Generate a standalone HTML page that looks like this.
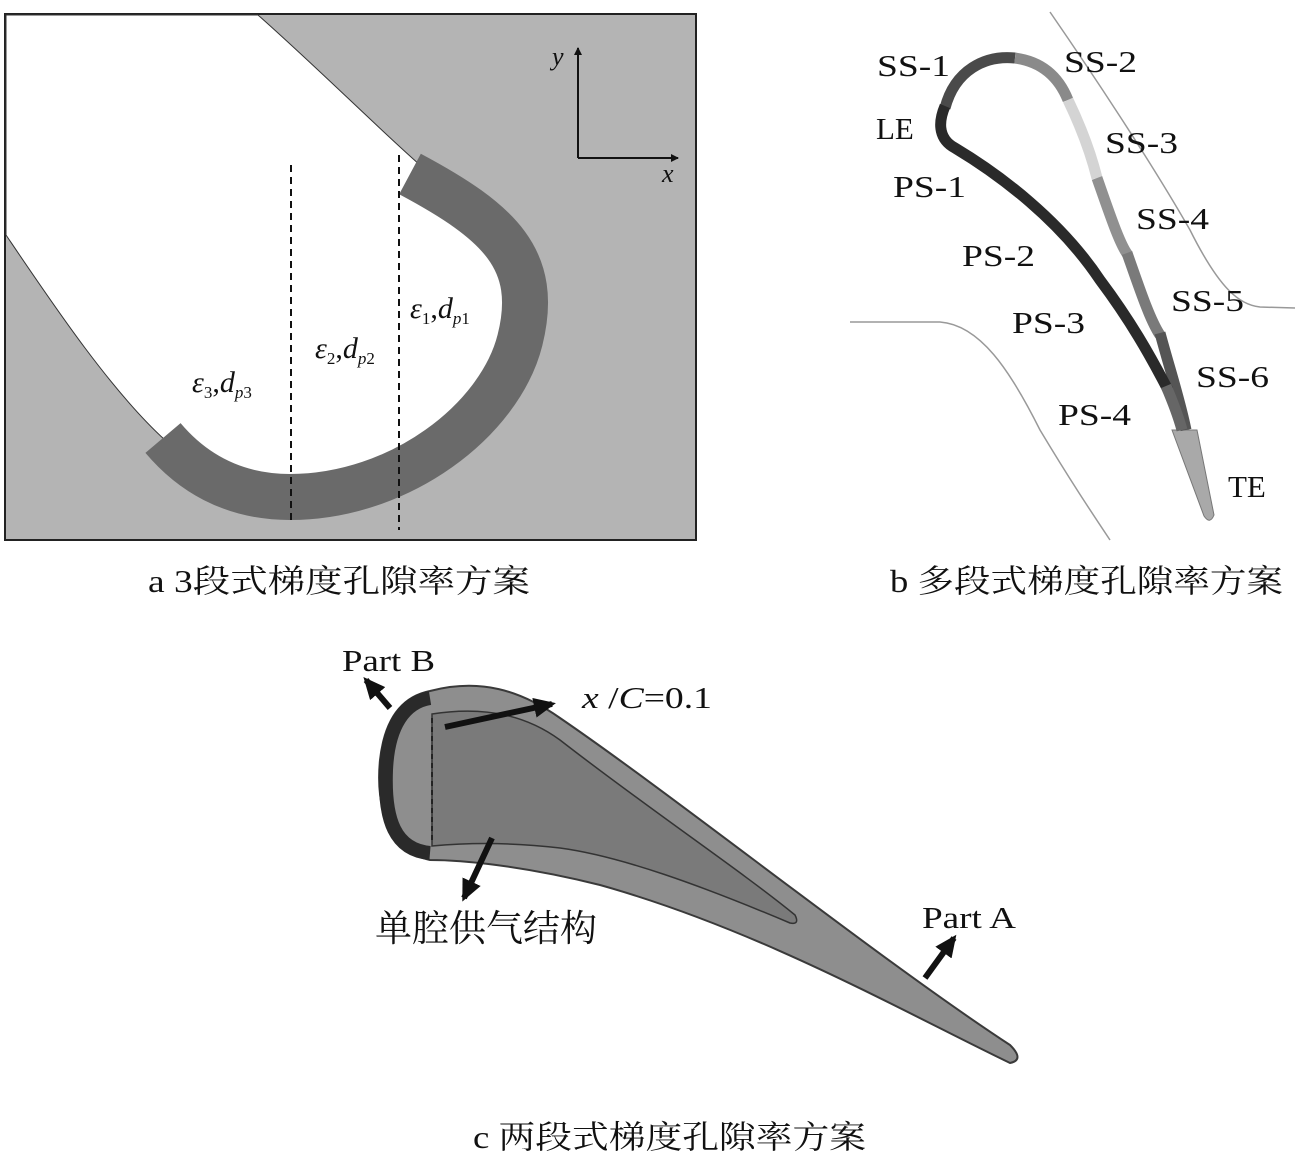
<!DOCTYPE html>
<html><head><meta charset="utf-8"><style>
html,body{margin:0;padding:0;background:#fff}
svg{display:block}
text{font-family:"Liberation Serif","Noto Serif CJK SC",serif;fill:#111}
</style></head><body>
<svg width="1305" height="1159" viewBox="0 0 1305 1159" xmlns="http://www.w3.org/2000/svg">
<defs>
<marker id="ah" markerWidth="8" markerHeight="8" refX="7" refY="4" orient="auto" markerUnits="userSpaceOnUse"><path d="M0,0 L8,4 L0,8 z" fill="#111"/></marker>
<marker id="bh" markerWidth="22" markerHeight="20" refX="18" refY="10" orient="auto" markerUnits="userSpaceOnUse"><path d="M0,0 L22,10 L0,20 z" fill="#111"/></marker>
</defs>
<!-- Panel a -->
<rect x="5" y="14" width="691" height="526" fill="#b4b4b4" stroke="#222" stroke-width="2"/>
<path d="M6,15 L258,15 C320,70 380,130 420,165 L415,178 C500,225 540,260 520,340 C500,420 400,497 290,497 C230,497 190,470 165,440 C110,390 50,300 6,235 Z" fill="#fff" stroke="#333" stroke-width="1"/>
<path d="M410,174 C500,222 540,260 520,340 C500,420 400,497 290,497 C230,497 190,470 163,438" fill="none" stroke="#6a6a6a" stroke-width="46"/>
<line x1="291" y1="165" x2="291" y2="525" stroke="#111" stroke-width="2" stroke-dasharray="7,5"/>
<line x1="399" y1="155" x2="399" y2="530" stroke="#111" stroke-width="2" stroke-dasharray="7,5"/>
<line x1="578" y1="158" x2="578" y2="48" stroke="#111" stroke-width="2" marker-end="url(#ah)"/>
<line x1="578" y1="158" x2="678" y2="158" stroke="#111" stroke-width="2" marker-end="url(#ah)"/>
<text x="552" y="65" font-size="26" font-style="italic">y</text>
<text x="662" y="182" font-size="26" font-style="italic">x</text>
<text x="410" y="318" font-size="30" font-style="italic">ε<tspan font-size="17" dy="6" font-style="normal">1</tspan><tspan dy="-6" font-style="normal">,</tspan>d<tspan font-size="17" dy="6">p</tspan><tspan font-size="17" font-style="normal">1</tspan></text>
<text x="315" y="358" font-size="30" font-style="italic">ε<tspan font-size="17" dy="6" font-style="normal">2</tspan><tspan dy="-6" font-style="normal">,</tspan>d<tspan font-size="17" dy="6">p</tspan><tspan font-size="17" font-style="normal">2</tspan></text>
<text x="192" y="392" font-size="30" font-style="italic">ε<tspan font-size="17" dy="6" font-style="normal">3</tspan><tspan dy="-6" font-style="normal">,</tspan>d<tspan font-size="17" dy="6">p</tspan><tspan font-size="17" font-style="normal">3</tspan></text>
<text x="148" y="592" font-size="32" textLength="382" lengthAdjust="spacingAndGlyphs">a 3段式梯度孔隙率方案</text>

<!-- Panel b -->
<path d="M1050,12 C1090,70 1150,160 1190,230 C1220,290 1240,305 1260,307 L1295,308" fill="none" stroke="#999" stroke-width="1.5"/>
<path d="M850,322 L940,322 C980,325 1010,370 1040,430 C1070,480 1090,510 1110,540" fill="none" stroke="#999" stroke-width="1.5"/>
<path d="M1172,430 L1197,430 L1214,515 Q1210,525 1204,516 Z" fill="#a9a9a9" stroke="#777"/>
<path d="M945,108 C955,70 985,55 1015,58" fill="none" stroke="#4a4a4a" stroke-width="11"/>
<path d="M1015,58 C1045,62 1060,80 1068,100" fill="none" stroke="#8a8a8a" stroke-width="11"/>
<path d="M1068,100 C1080,125 1090,150 1097,178" fill="none" stroke="#d4d4d4" stroke-width="11"/>
<path d="M1097,178 C1110,215 1120,245 1128,255" fill="none" stroke="#909090" stroke-width="11"/>
<path d="M1127,253 C1140,290 1150,320 1160,335" fill="none" stroke="#7a7a7a" stroke-width="11"/>
<path d="M1160,333 C1170,370 1180,400 1186,430" fill="none" stroke="#555" stroke-width="11"/>
<path d="M945,106 C937,125 940,140 955,148 C1000,175 1060,220 1100,280 C1130,320 1150,355 1168,390" fill="none" stroke="#2a2a2a" stroke-width="11"/>
<path d="M1166,386 C1172,400 1178,415 1182,430" fill="none" stroke="#666" stroke-width="11"/>
<g font-size="31">
<text x="877" y="76" textLength="73" lengthAdjust="spacingAndGlyphs">SS-1</text>
<text x="1064" y="72" textLength="73" lengthAdjust="spacingAndGlyphs">SS-2</text>
<text x="876" y="139">LE</text>
<text x="1105" y="153" textLength="73" lengthAdjust="spacingAndGlyphs">SS-3</text>
<text x="893" y="197" textLength="73" lengthAdjust="spacingAndGlyphs">PS-1</text>
<text x="1136" y="229" textLength="73" lengthAdjust="spacingAndGlyphs">SS-4</text>
<text x="962" y="266" textLength="73" lengthAdjust="spacingAndGlyphs">PS-2</text>
<text x="1171" y="311" textLength="73" lengthAdjust="spacingAndGlyphs">SS-5</text>
<text x="1012" y="333" textLength="73" lengthAdjust="spacingAndGlyphs">PS-3</text>
<text x="1196" y="387" textLength="73" lengthAdjust="spacingAndGlyphs">SS-6</text>
<text x="1058" y="425" textLength="73" lengthAdjust="spacingAndGlyphs">PS-4</text>
<text x="1228" y="497">TE</text>
</g>
<text x="890" y="592" font-size="32" textLength="393" lengthAdjust="spacingAndGlyphs">b 多段式梯度孔隙率方案</text>

<!-- Panel c -->
<path d="M430,691 C480,678 520,690 560,718 C680,800 880,960 1010,1045 Q1025,1060 1010,1063 C900,1010 760,930 600,885 C520,865 460,860 430,860 C385,850 376,800 380,760 C385,715 405,696 430,691 Z" fill="#8e8e8e" stroke="#3a3a3a" stroke-width="2"/>
<path d="M432,714 C490,705 530,718 560,740 C650,810 740,870 795,915 Q800,925 790,923 C700,885 620,856 560,848 C510,842 465,843 432,846 Z" fill="#7a7a7a" stroke="#333" stroke-width="1.5"/>
<path d="M430,698 C405,702 388,725 386,770 C384,820 395,850 430,853" fill="none" stroke="#2a2a2a" stroke-width="14"/>
<line x1="432" y1="718" x2="432" y2="843" stroke="#111" stroke-width="1.5" stroke-dasharray="5,4"/>
<line x1="390" y1="708" x2="366" y2="680" stroke="#111" stroke-width="6" marker-end="url(#bh)"/>
<line x1="445" y1="727" x2="552" y2="704" stroke="#111" stroke-width="6" marker-end="url(#bh)"/>
<line x1="492" y1="838" x2="464" y2="898" stroke="#111" stroke-width="6" marker-end="url(#bh)"/>
<line x1="925" y1="978" x2="954" y2="938" stroke="#111" stroke-width="6" marker-end="url(#bh)"/>
<text x="342" y="671" font-size="31" textLength="93" lengthAdjust="spacingAndGlyphs">Part B</text>
<text x="582" y="708" font-size="31" textLength="130" lengthAdjust="spacingAndGlyphs"><tspan font-style="italic">x</tspan> /<tspan font-style="italic">C</tspan>=0.1</text>
<text x="375" y="941" font-size="37" textLength="222" lengthAdjust="spacingAndGlyphs">单腔供气结构</text>
<text x="922" y="928" font-size="31" textLength="94" lengthAdjust="spacingAndGlyphs">Part A</text>
<text x="473" y="1148" font-size="32" textLength="393" lengthAdjust="spacingAndGlyphs">c 两段式梯度孔隙率方案</text>
</svg>
</body></html>
